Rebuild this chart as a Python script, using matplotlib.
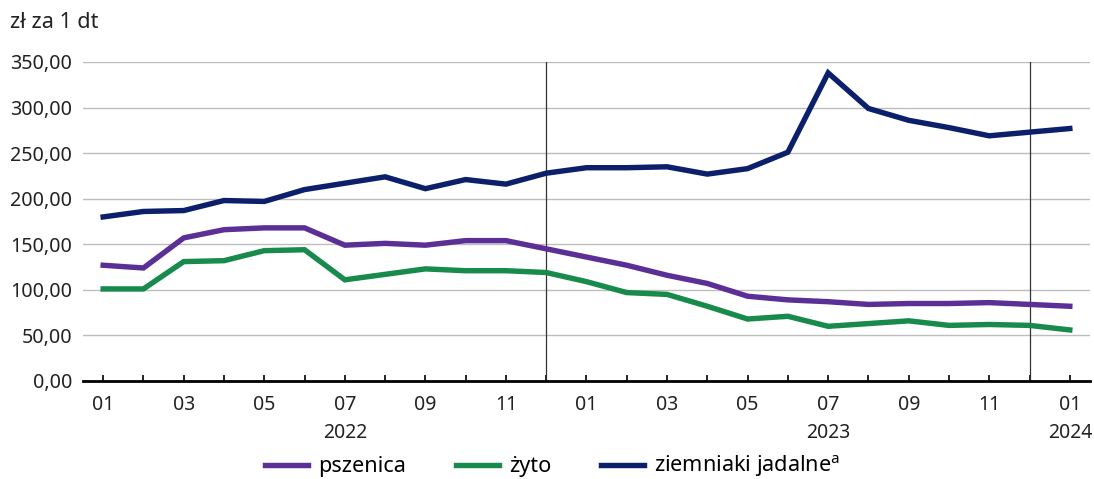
import matplotlib.pyplot as plt
import numpy as np

plt.rcParams['font.family'] = ['Noto Sans', 'DejaVu Sans']

# miesiące 2022-01 .. 2024-01
months = ["01", "02", "03", "04", "05", "06", "07", "08", "09", "10", "11", "12",
          "01", "02", "03", "04", "05", "06", "07", "08", "09", "10", "11", "12",
          "01"]
years = {6: "2022", 18: "2023", 24: "2024"}

pszenica = [127, 124, 157, 166, 168, 168, 149, 151, 149, 154, 154, 145,
            136, 127, 116, 107, 93, 89, 87, 84, 85, 85, 86, 84, 82]
zyto = [101, 101, 131, 132, 143, 144, 111, 117, 123, 121, 121, 119,
        109, 97, 95, 82, 68, 71, 60, 63, 66, 61, 62, 61, 56]
ziemniaki = [180, 186, 187, 198, 197, 210, 217, 224, 211, 221, 216, 228,
             234, 234, 235, 227, 233, 251, 338, 299, 286, 278, 269, 273, 277]

c_psz = "#5b2f96"
c_zyto = "#178a4c"
c_ziem = "#0b1f6b"

fig = plt.figure(figsize=(10.94, 4.79), dpi=100)
ax = fig.add_axes([0.0759, 0.2046, 0.9204, 0.666])

x = np.arange(len(months))
lw = 3.9
ax.plot(x, pszenica, color=c_psz, lw=lw, label="pszenica", solid_joinstyle="miter")
ax.plot(x, zyto, color=c_zyto, lw=lw, label="żyto", solid_joinstyle="miter")
ax.plot(x, ziemniaki, color=c_ziem, lw=lw, label="ziemniaki jadalne$^{\\mathregular{a}}$",
        solid_joinstyle="miter")

ax.set_xlim(-0.5, len(months) - 0.5)
ax.set_ylim(0, 350)
ax.set_yticks(np.arange(0, 351, 50))
ax.set_yticklabels([f"{v:.2f}".replace(".", ",") for v in np.arange(0, 351, 50)])
ax.grid(axis="y", color="#bdbdbd", lw=1)
ax.set_axisbelow(True)

# linie oddzielające lata
for xv in [11, 23]:
    ax.axvline(xv, color="#333333", lw=0.9, zorder=1)

ax.set_xticks(x)
ax.set_xticklabels([])
ax.tick_params(axis="x", direction="in", length=4, width=1.2, color="black")
ax.tick_params(axis="y", length=0, labelsize=14.2, pad=8, labelcolor="#222222")
for i, m in enumerate(months):
    if i % 2 == 0:
        lab = m + ("\n" + years[i] if i in years else "")
        ax.text(i, -15, lab, ha="center", va="top", fontsize=14, color="#222222",
                linespacing=1.55)

for s in ["top", "right", "left"]:
    ax.spines[s].set_visible(False)
ax.spines["bottom"].set_linewidth(2)
ax.spines["bottom"].set_color("black")

fig.text(0.009, 0.953, "zł za 1 dt", fontsize=15.5, color="#222222", va="center")

fig.legend(loc="center", bbox_to_anchor=(0.505, 0.026), ncol=3, frameon=False,
           fontsize=15.6, handlelength=2.0, handletextpad=0.45, columnspacing=2.3)

fig.savefig("out.png", dpi=100)
